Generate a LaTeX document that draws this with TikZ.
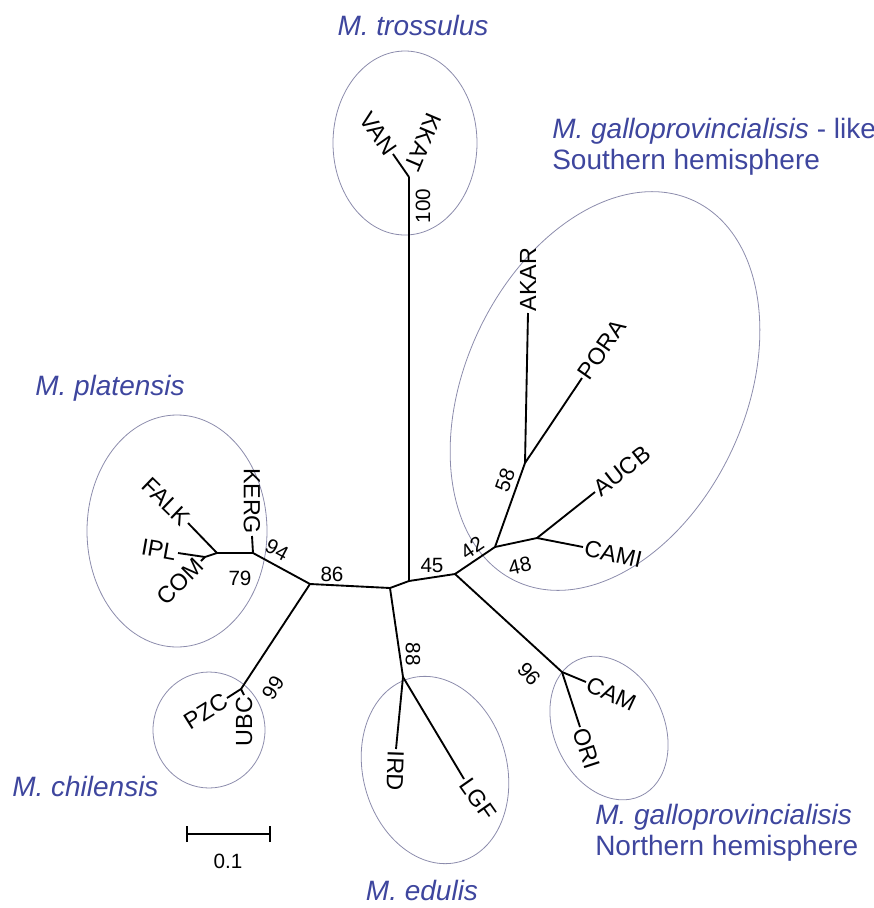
\documentclass[tikz,border=0pt]{standalone}
\usepackage{fontspec}
\setmainfont{Liberation Sans}
\usepackage{tikz}
\definecolor{cladeblue}{RGB}{62,70,158}
\definecolor{ringgray}{RGB}{140,140,172}

\begin{document}
\begin{tikzpicture}[
    x=0.75pt, y=-0.75pt,
    branch/.style={line width=1.4pt, line join=round},
    taxon/.style={inner sep=1.2pt, font=\fontsize{17.5}{17.5}\selectfont},
    boot/.style={inner sep=0pt, font=\fontsize{15.5}{15.5}\selectfont},
    cladename/.style={text=cladeblue, inner sep=0pt, align=left, font=\fontsize{21}{23.5}\selectfont},
    group/.style={draw=ringgray, line width=0.6pt},
]
    \useasboundingbox (0,0) rectangle (874,908);

    % inner nodes of the tree
    \coordinate (center) at (390,588);
    \coordinate (tbase) at (409,581);
    \coordinate (n45) at (455,574);
    \coordinate (n42) at (495,547);
    \coordinate (n58) at (525,463);
    \coordinate (n48) at (537,538);
    \coordinate (n96) at (562,672);
    \coordinate (n88) at (403,677);
    \coordinate (n86) at (310,584);
    \coordinate (n94) at (253,553);
    \coordinate (n79) at (217,553);
    \coordinate (nipl) at (205,557);
    \coordinate (n99) at (241,689);
    \coordinate (n100) at (409,177);

    % tips
    \coordinate (tvan) at (393,154);
    \coordinate (tkkat) at (411,171);
    \coordinate (takar) at (528,313);
    \coordinate (tpora) at (582,378);
    \coordinate (taucb) at (595,492);
    \coordinate (tcami) at (583,547);
    \coordinate (tcam) at (586,682);
    \coordinate (tori) at (580,727);
    \coordinate (tlgf) at (464,779);
    \coordinate (tird) at (396,749);
    \coordinate (tubc) at (244,695);
    \coordinate (tpzc) at (227,698);
    \coordinate (tcom) at (201,561);
    \coordinate (tipl) at (178,553);
    \coordinate (tfalk) at (188,523);
    \coordinate (tkerg) at (252,536);

    % groups
    \draw[group] (405,143) ellipse (72 and 92);
    \draw[group, rotate around={-25:(605,391)}] (605,391) ellipse (140 and 210);
    \draw[group] (177,531) ellipse (90 and 116);
    \draw[group] (209,730) ellipse (56 and 58);
    \draw[group, rotate around={15:(435,770)}] (435,770) ellipse (72 and 95);
    \draw[group, rotate around={25:(609,728)}] (609,728) ellipse (55 and 75);

    \draw[branch] (n86) -- (center);
    \draw[branch] (center) -- (tbase);
    \draw[branch] (tbase) -- (n45);
    \draw[branch] (center) -- (n88);
    \draw[branch] (tbase) -- (n100);
    \draw[branch] (n100) -- (tvan);
    \draw[branch] (n45) -- (n42);
    \draw[branch] (n42) -- (n58);
    \draw[branch] (n58) -- (takar);
    \draw[branch] (n58) -- (tpora);
    \draw[branch] (n42) -- (n48);
    \draw[branch] (n48) -- (taucb);
    \draw[branch] (n48) -- (tcami);
    \draw[branch] (n45) -- (n96);
    \draw[branch] (n96) -- (tcam);
    \draw[branch] (n96) -- (tori);
    \draw[branch] (n88) -- (tird);
    \draw[branch] (n88) -- (tlgf);
    \draw[branch] (n86) -- (n99);
    \draw[branch] (n99) -- (tubc);
    \draw[branch] (n99) -- (tpzc);
    \draw[branch] (n86) -- (n94);
    \draw[branch] (n94) -- (tkerg);
    \draw[branch] (n94) -- (n79);
    \draw[branch] (n79) -- (tfalk);
    \draw[branch] (n79) -- (nipl);
    \draw[branch] (nipl) -- (tipl);
    \draw[branch] (nipl) -- (tcom);

    \node[taxon, rotate=-55, anchor=east] (van) at (tvan) {VAN};
    \node[taxon, rotate=-113, anchor=east] (kkat) at (tkkat) {KKAT};
    \node[taxon, rotate=90, anchor=west] (akar) at (takar) {AKAR};
    \node[taxon, rotate=55, anchor=west] (pora) at (tpora) {PORA};
    \node[taxon, rotate=38, anchor=west] (aucb) at (taucb) {AUCB};
    \node[taxon, rotate=-13, anchor=west] (cami) at (tcami) {CAMI};
    \node[taxon, rotate=-25, anchor=west] (cam) at (tcam) {CAM};
    \node[taxon, rotate=-72, anchor=west] (ori) at (tori) {ORI};
    \node[taxon, rotate=-55, anchor=west] (lgf) at (tlgf) {LGF};
    \node[taxon, rotate=-92, anchor=west] (ird) at (tird) {IRD};
    \node[taxon, rotate=90, anchor=east] (ubc) at (tubc) {UBC};
    \node[taxon, rotate=32, anchor=east] (pzc) at (tpzc) {PZC};
    \node[taxon, rotate=45, anchor=east] (com) at (tcom) {COM};
    \node[taxon, rotate=-10, anchor=east] (ipl) at (tipl) {IPL};
    \node[taxon, rotate=-44, anchor=east] (falk) at (tfalk) {FALK};
    \node[taxon, rotate=-90, anchor=east] (kerg) at (tkerg) {KERG};

    \node[boot, rotate=90] (b100) at (423,206) {100};
    \node[boot] (b45) at (432,565) {45};
    \node[boot, rotate=34] (b42) at (472,548) {42};
    \node[boot, rotate=70] (b58) at (505,480) {58};
    \node[boot, rotate=12] (b48) at (520,566) {48};
    \node[boot, rotate=-48] (b96) at (529,674) {96};
    \node[boot, rotate=-90] (b88) at (413,654) {88};
    \node[boot] (b86) at (332,574) {86};
    \node[boot, rotate=-28] (b94) at (277,550) {94};
    \node[boot] (b79) at (240,578) {79};
    \node[boot, rotate=58] (b99) at (273,688) {99};

    \node[cladename] (trossulus) at (413,25) {\itshape M. trossulus};
    \node[cladename, anchor=west] (gallosouth) at (552,147) {{\itshape M. galloprovincialisis} - like\\Southern hemisphere};
    \node[cladename, anchor=west] (platensis) at (35,388) {\itshape M. platensis};
    \node[cladename, anchor=west] (chilensis) at (12,786) {\itshape M. chilensis};
    \node[cladename] (edulis) at (422,890) {\itshape M. edulis};
    \node[cladename, anchor=west] (gallonorth) at (595,833) {\itshape M. galloprovincialisis\\Northern hemisphere};

    % scale bar
    \coordinate (sbl) at (187,834);
    \coordinate (sbr) at (270,834);
    \draw[line width=1.3pt] (sbl) -- (sbr);
    \draw[line width=1.3pt] ([yshift=-6pt]sbl) -- ([yshift=6pt]sbl);
    \draw[line width=1.3pt] ([yshift=-6pt]sbr) -- ([yshift=6pt]sbr);
    \node[boot] (sblabel) at (228,861) {0.1};
\end{tikzpicture}
\end{document}
